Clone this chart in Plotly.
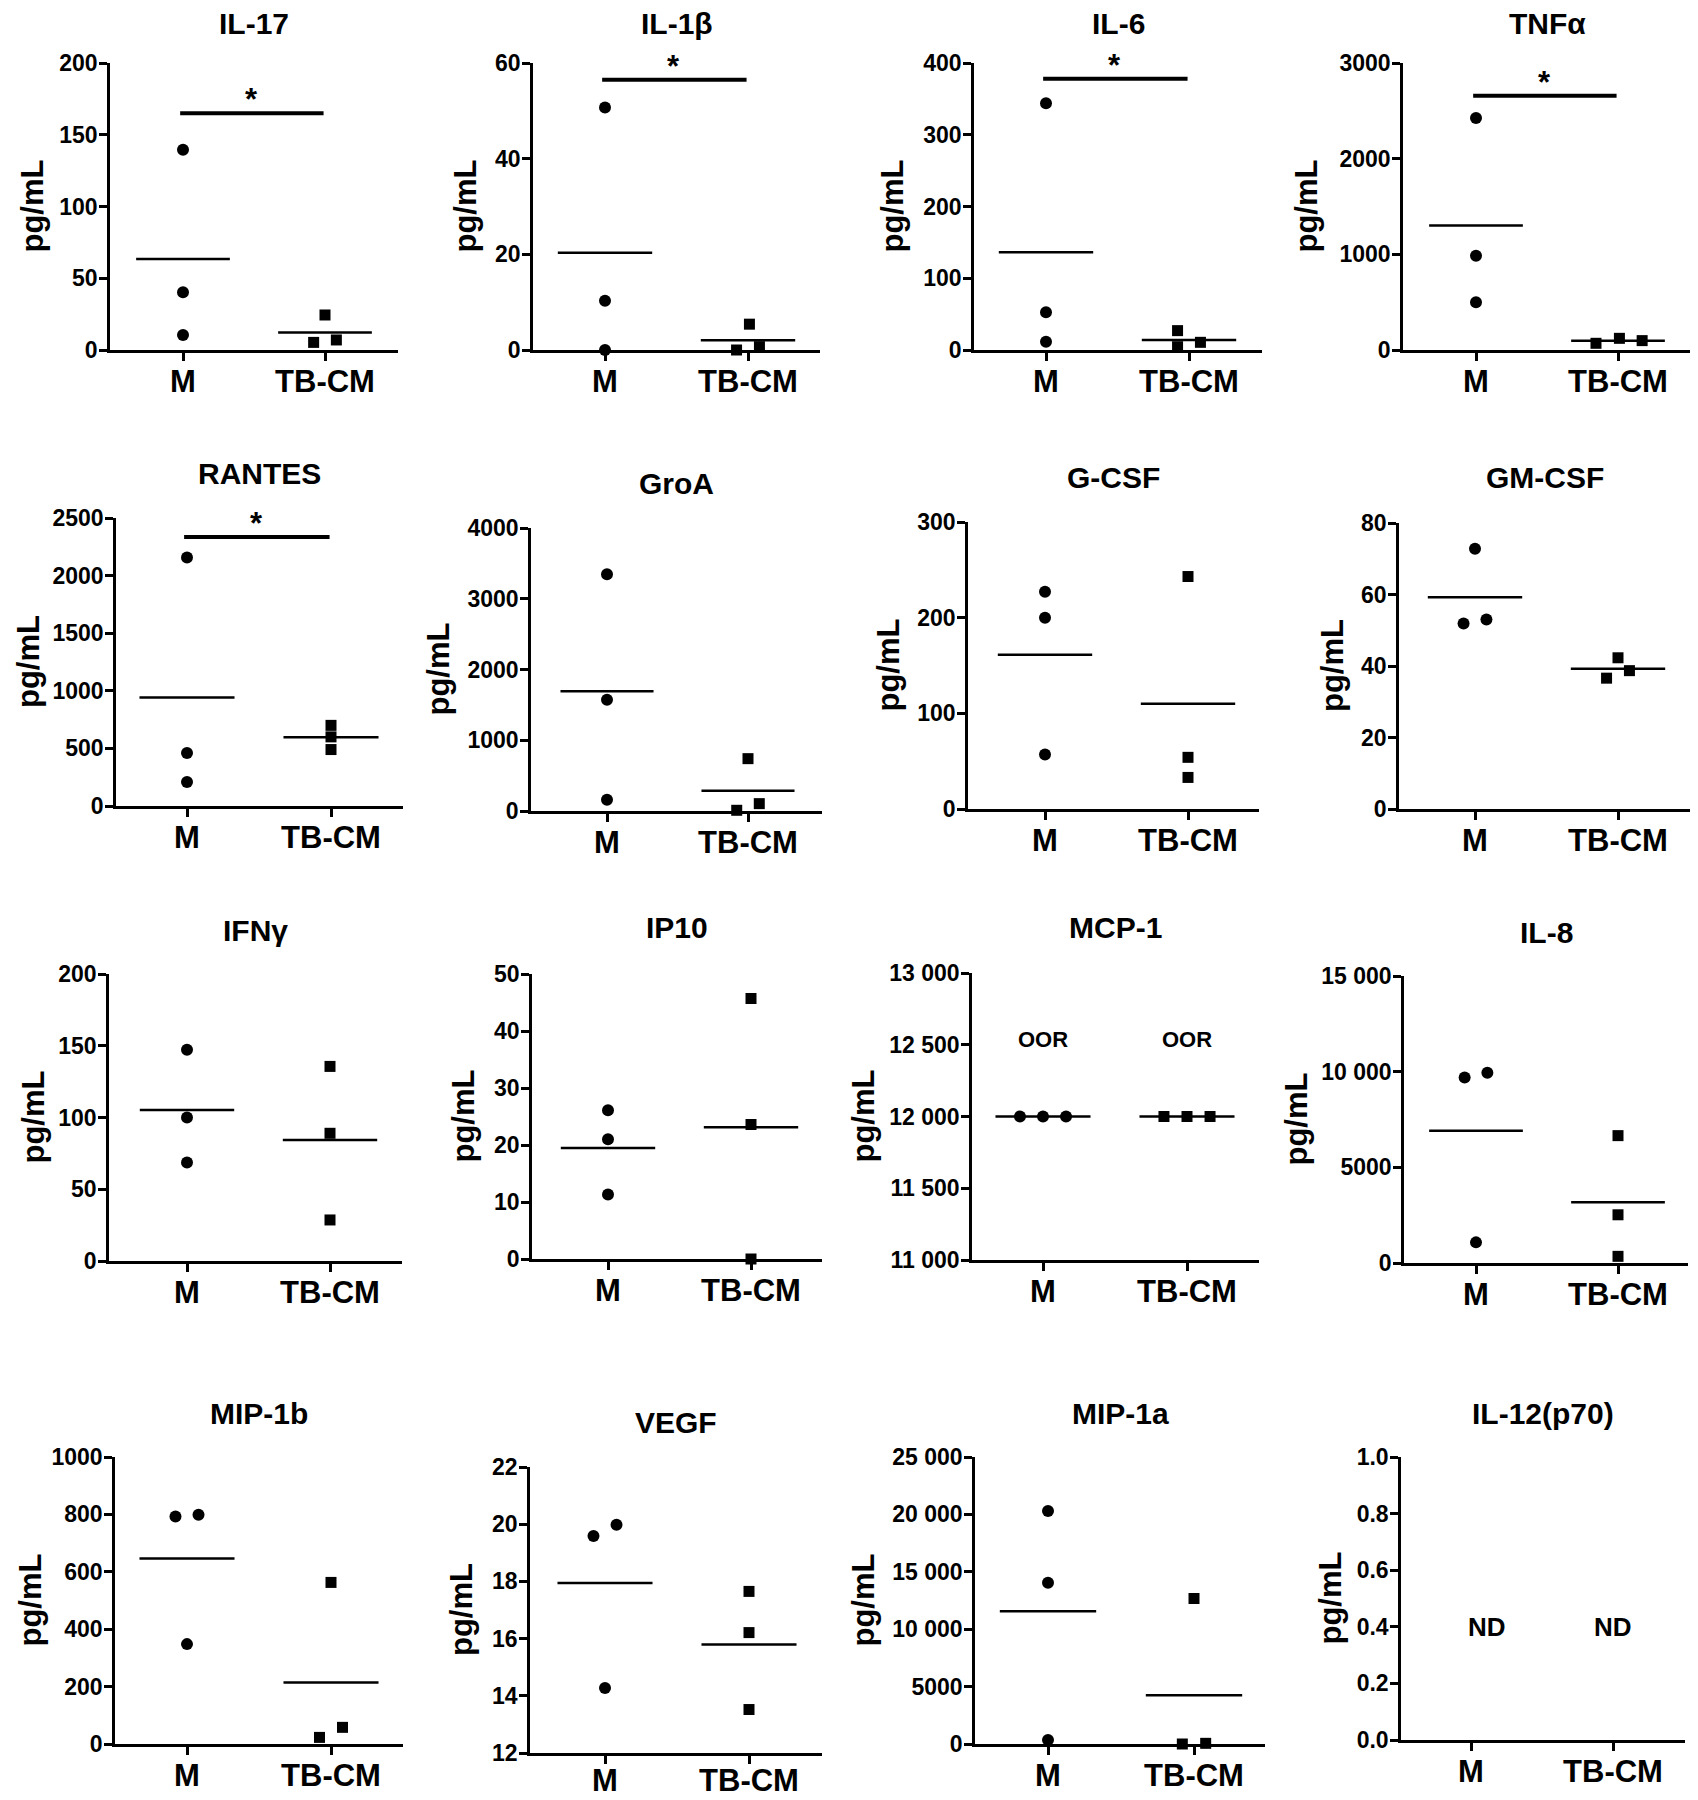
import numpy as np
import plotly.graph_objects as go

# ---------------- data ----------------
groups = ["M", "TB-CM"]
titles = ["IL-17", "IL-1β", "IL-6", "TNFα",
          "RANTES", "GroA", "G-CSF", "GM-CSF",
          "IFNγ", "IP10", "MCP-1", "IL-8",
          "MIP-1b", "VEGF", "MIP-1a", "IL-12(p70)"]

il17_m, il17_tb = [139.5, 40.2, 10.5], [24.4, 5.3, 7.0]
il1b_m, il1b_tb = [50.7, 10.3, 0.0], [5.4, 0.0, 0.7]
il6_m, il6_tb = [344, 52.6, 11.6], [27.0, 4.6, 10.7]
tnfa_m, tnfa_tb = [2424, 984, 499], [70, 122, 98]
rantes_m, rantes_tb = [2158, 461, 209], [700, 600, 490]
groa_m, groa_tb = [3345, 1573, 160], [740, 10, 104]
gcsf_m, gcsf_tb = [227, 200, 57], [243, 54, 33]
gmcsf_m, gmcsf_tb = [72.8, 51.9, 53.0], [42.3, 36.6, 38.7]
ifng_m, ifng_tb = [147.2, 100.0, 68.6], [135.6, 89.0, 28.6]
ip10_m, ip10_tb = [26.1, 21.0, 11.3], [45.7, 23.6, 0.0]
mcp1_m, mcp1_tb = [12000, 12000, 12000], [12000, 12000, 12000]
il8_m, il8_tb = [9699, 9943, 1078], [6657, 2520, 348]
mip1b_m, mip1b_tb = [793, 799, 348], [563, 23, 58]
vegf_m, vegf_tb = [19.59, 19.98, 14.27], [17.65, 16.21, 13.52]
mip1a_m, mip1a_tb = [20302, 14037, 348], [12674, 0, 58]
il12_m, il12_tb = [], []

m_values = [il17_m, il1b_m, il6_m, tnfa_m, rantes_m, groa_m, gcsf_m, gmcsf_m,
            ifng_m, ip10_m, mcp1_m, il8_m, mip1b_m, vegf_m, mip1a_m, il12_m]
tb_values = [il17_tb, il1b_tb, il6_tb, tnfa_tb, rantes_tb, groa_tb, gcsf_tb, gmcsf_tb,
             ifng_tb, ip10_tb, mcp1_tb, il8_tb, mip1b_tb, vegf_tb, mip1a_tb, il12_tb]

y_ranges = [[0, 200], [0, 60], [0, 400], [0, 3000],
            [0, 2500], [0, 4000], [0, 300], [0, 80],
            [0, 200], [0, 50], [11000, 13000], [0, 15000],
            [0, 1000], [12, 22], [0, 25000], [0, 1]]
tick_vals = [[0, 50, 100, 150, 200], [0, 20, 40, 60], [0, 100, 200, 300, 400], [0, 1000, 2000, 3000],
             [0, 500, 1000, 1500, 2000, 2500], [0, 1000, 2000, 3000, 4000], [0, 100, 200, 300], [0, 20, 40, 60, 80],
             [0, 50, 100, 150, 200], [0, 10, 20, 30, 40, 50], [11000, 11500, 12000, 12500, 13000], [0, 5000, 10000, 15000],
             [0, 200, 400, 600, 800, 1000], [12, 14, 16, 18, 20, 22], [0, 5000, 10000, 15000, 20000, 25000],
             [0, 0.2, 0.4, 0.6, 0.8, 1.0]]
tick_text = [["0", "50", "100", "150", "200"], ["0", "20", "40", "60"], ["0", "100", "200", "300", "400"],
             ["0", "1000", "2000", "3000"],
             ["0", "500", "1000", "1500", "2000", "2500"], ["0", "1000", "2000", "3000", "4000"],
             ["0", "100", "200", "300"], ["0", "20", "40", "60", "80"],
             ["0", "50", "100", "150", "200"], ["0", "10", "20", "30", "40", "50"],
             ["11 000", "11 500", "12 000", "12 500", "13 000"], ["0", "5000", "10 000", "15 000"],
             ["0", "200", "400", "600", "800", "1000"], ["12", "14", "16", "18", "20", "22"],
             ["0", "5000", "10 000", "15 000", "20 000", "25 000"],
             ["0.0", "0.2", "0.4", "0.6", "0.8", "1.0"]]

# significance bars (y level in data units); None = no bar
sig_levels = [165, 56.5, 378, 2658, 2335, None, None, None,
              None, None, None, None, None, None, None, None]
# text labels for out-of-range / not detected
oor_level = 12540
nd_level = 0.4

# ---------------- layout / positions (pixels of the reference) ----------------
OFF = 8  # the page body margin that the browser adds around the plot div
W, H = 1698 - OFF, 1800 - OFF
# axis_x, right, top, bottom, M tick x, TB tick x, ylabel x, title y
geom = [
    (110, 398, 63, 350, 183, 325, 32, 24),
    (533, 820, 63, 350, 605, 748, 465, 24),
    (974, 1262, 63, 350, 1046, 1189, 892, 24),
    (1403, 1692, 63, 350, 1476, 1618, 1306, 24),
    (116, 403, 518, 806, 187, 331, 28, 473),
    (531, 822, 528, 811, 607, 748, 438, 483),
    (968, 1259, 522, 809, 1045, 1188, 888, 477),
    (1399, 1691, 523, 809, 1475, 1618, 1332, 477),
    (109, 402, 974, 1261, 187, 330, 33, 930),
    (532, 822, 974, 1259, 608, 751, 463, 928),
    (972, 1259, 973, 1260, 1043, 1187, 863, 927),
    (1404, 1688, 976, 1263, 1476, 1618, 1296, 932),
    (115, 403, 1457, 1744, 187, 331, 30, 1413),
    (530, 822, 1467, 1753, 605, 749, 461, 1422),
    (975, 1265, 1457, 1744, 1048, 1194, 863, 1413),
    (1401, 1685, 1457, 1740, 1471, 1613, 1330, 1413),
]
x_label_standoff = [-6] * 13 + [-10] + [-6] * 2
s = 0.08
m_offsets = [[0, 0, 0], [0, 0, 0], [0, 0, 0], [0, 0, 0],
             [0, 0, 0], [0, 0, 0], [0, 0, 0], [0, -s, s],
             [0, 0, 0], [0, 0, 0], [-0.16, 0, 0.16], [-s, s, 0],
             [-s, s, 0], [-s, s, 0], [0, 0, 0], []]
tb_offsets = [[0, -s, s], [0.01, -s, s], [-s, -s, s], [-0.155, 0.01, 0.17],
              [0, 0, 0], [0, -s, s], [0, 0, 0], [0, -s, s],
              [0, 0, 0], [0, 0, 0], [-0.16, 0, 0.16], [0, 0, 0],
              [0, -s, s], [0, 0, 0], [0, -s, s], []]

FONT = "Liberation Sans, Arial, sans-serif"
fig = go.Figure()
annotations = []
layout = {}


def px(v):
    return (v - OFF) / W


def py(v):
    return 1 - (v - OFF) / H


for i in range(16):
    n = i + 1
    xa, ya = f"x{n}", f"y{n}"
    ax_x, right, top, bottom, mx, tbx, labx, ty = geom[i]
    unit = tbx - mx
    xr = [-(mx - ax_x) / unit, 1 + (right - tbx) / unit]
    layout[f"xaxis{n}"] = dict(
        domain=[px(ax_x), px(right)], anchor=ya, range=xr, automargin=False,
        tickvals=[0, 1], ticktext=groups, showline=True, linecolor="black",
        linewidth=2.5, ticks="outside", ticklen=8, tickwidth=2.5, tickcolor="black",
        showgrid=False, zeroline=False, fixedrange=True, ticklabelstandoff=x_label_standoff[i],
        tickfont=dict(family=FONT, size=31, color="black", weight="bold"),
    )
    layout[f"yaxis{n}"] = dict(
        domain=[py(bottom), py(top)], anchor=xa, range=y_ranges[i], automargin=False,
        tickvals=tick_vals[i], ticktext=tick_text[i], showline=True, linecolor="black",
        linewidth=2.5, ticks="outside", ticklen=8, tickwidth=2.5, tickcolor="black",
        showgrid=False, zeroline=False, fixedrange=True, ticklabelstandoff=-3,
        tickfont=dict(family=FONT, size=23, color="black", weight="bold"),
    )
    # title
    annotations.append(dict(xref="paper", yref="paper", x=px((ax_x + right) / 2), y=py(ty),
                            text=f"<b>{titles[i]}</b>", showarrow=False, xanchor="center", yanchor="middle",
                            font=dict(family=FONT, size=30, color="black")))
    # y label
    annotations.append(dict(xref="paper", yref="paper", x=px(labx), y=py((top + bottom) / 2),
                            text="<b>pg/mL</b>", textangle=-90, showarrow=False,
                            xanchor="center", yanchor="middle",
                            font=dict(family=FONT, size=31, color="black")))

    mv, tv = m_values[i], tb_values[i]
    if len(mv):
        fig.add_trace(go.Scatter(x=np.array(m_offsets[i]) + 0, y=mv, mode="markers", xaxis=xa, yaxis=ya,
                                 marker=dict(symbol="circle", size=12, color="black"), cliponaxis=False))
        mean_m = float(np.mean(mv))
        fig.add_trace(go.Scatter(x=[-0.33, 0.33], y=[mean_m, mean_m], mode="lines", xaxis=xa, yaxis=ya,
                                 line=dict(color="black", width=2.5), cliponaxis=False))
    if len(tv):
        fig.add_trace(go.Scatter(x=np.array(tb_offsets[i]) + 1, y=tv, mode="markers", xaxis=xa, yaxis=ya,
                                 marker=dict(symbol="square", size=11, color="black"), cliponaxis=False))
        mean_tb = float(np.mean(tv))
        fig.add_trace(go.Scatter(x=[0.67, 1.33], y=[mean_tb, mean_tb], mode="lines", xaxis=xa, yaxis=ya,
                                 line=dict(color="black", width=2.5), cliponaxis=False))
    if sig_levels[i] is not None:
        fig.add_trace(go.Scatter(x=[-0.02, 0.99], y=[sig_levels[i]] * 2, mode="lines", xaxis=xa, yaxis=ya,
                                 line=dict(color="black", width=4), cliponaxis=False))
        annotations.append(dict(xref=xa, yref=ya, x=0.48, y=sig_levels[i], text="<b>*</b>",
                                showarrow=False, xanchor="center", yanchor="bottom", yshift=-6,
                                font=dict(family=FONT, size=31, color="black")))
    if titles[i] == "MCP-1":
        for gx in [0, 1]:
            annotations.append(dict(xref=xa, yref=ya, x=gx, y=oor_level, text="<b>OOR</b>", showarrow=False,
                                    font=dict(family=FONT, size=22, color="black")))
    if titles[i] == "IL-12(p70)":
        for gx in [0.11, 1.0]:
            annotations.append(dict(xref=xa, yref=ya, x=gx, y=nd_level, text="<b>ND</b>", showarrow=False,
                                    font=dict(family=FONT, size=26, color="black")))

fig.update_layout(**layout)
fig.update_layout(template="none", width=W, height=H, margin=dict(l=0, r=0, t=0, b=0), showlegend=False,
                  paper_bgcolor="white", plot_bgcolor="white", annotations=annotations,
                  font=dict(family=FONT, color="black"))
fig.write_html("out.html")
